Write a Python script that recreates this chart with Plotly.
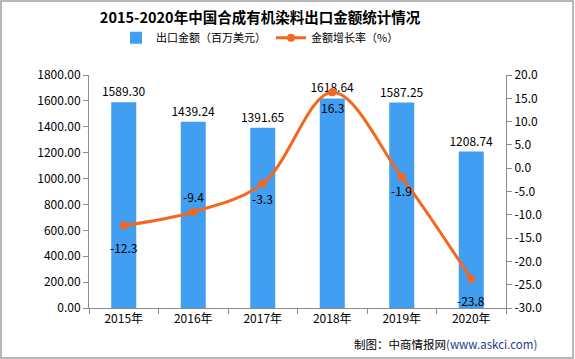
import plotly.graph_objects as go

years = ["2015年", "2016年", "2017年", "2018年", "2019年", "2020年"]
export_value = [1589.30, 1439.24, 1391.65, 1618.64, 1587.25, 1208.74]
growth_rate = [-12.3, -9.4, -3.3, 16.3, -1.9, -23.8]
left_ticks = [0, 200, 400, 600, 800, 1000, 1200, 1400, 1600, 1800]
right_ticks = [20, 15, 10, 5, 0, -5, -10, -15, -20, -25, -30]

BAR_COLOR = "#419EF0"
LINE_COLOR = "#F5661F"
FONT = "SimSun, Noto Sans CJK SC, sans-serif"
label_shift = [-22, 16, -15, -15, -13, -21]

fig = go.Figure()
fig.add_trace(go.Bar(
    x=years, y=export_value, name="出口金额（百万美元）",
    marker=dict(color=BAR_COLOR, line=dict(width=0)), width=0.36,
    text=[f"{v:.2f}" for v in export_value], textposition="outside", constraintext="none",
    textangle=0, textfont=dict(size=12, color="#000000", family=FONT), cliponaxis=False,
))
fig.add_trace(go.Scatter(
    x=years, y=growth_rate, name="金额增长率（%）", yaxis="y2",
    mode="lines+markers", line=dict(color=LINE_COLOR, width=3, shape="spline", smoothing=1.0),
    marker=dict(color=LINE_COLOR, size=8),
))
for xv, yv, sh in zip(years, growth_rate, label_shift):
    fig.add_annotation(x=xv, y=yv, yref="y2", text=f"{yv:.1f}", showarrow=False,
                       yshift=sh, font=dict(size=12, color="#000000", family=FONT))

fig.add_annotation(xref="paper", yref="paper", x=1.08, y=-36/233, xanchor="right", yanchor="middle",
                   text="制图：中商情报网<span style='color:#1F3C88'>(www.askci.com)</span>",
                   showarrow=False, font=dict(size=11.5, color="#000000", family=FONT))

pw, ph = 417, 233
fig.add_shape(type="rect", xref="paper", yref="paper",
              x0=-88/pw, x1=(417 + 67) / pw, y0=-50/ph, y1=(233 + 74) / ph,
              line=dict(color="#A0A0A0", width=1.5), fillcolor="rgba(0,0,0,0)", layer="above")

fig.update_layout(
    width=575, height=359,
    margin=dict(l=89, r=69, t=75, b=51, autoexpand=False),
    paper_bgcolor="white", plot_bgcolor="white",
    font=dict(family=FONT, size=12, color="#000000"),
    title=dict(text="<b>2015-2020年中国合成有机染料出口金额统计情况</b>", x=260/575, xanchor="center",
               y=0.95, yanchor="middle", font=dict(size=14.5, family=FONT, color="#000000")),
    legend=dict(orientation="h", x=(260 - 89) / 417, xanchor="center", y=1.16, yanchor="middle",
                font=dict(size=11, family=FONT), traceorder="normal"),
    bargap=0.64,
    showlegend=True,
    xaxis=dict(showline=True, linecolor="#8C8C8C", linewidth=1, ticks="outside", tickcolor="#8C8C8C",
               ticklen=5, tickson="boundaries", showgrid=False, tickfont=dict(size=12), tickangle=0),
    yaxis=dict(range=[0, 1800], tickvals=left_ticks, ticktext=[f"{v:.2f}" for v in left_ticks],
               showline=True, linecolor="#8C8C8C", ticks="outside", tickcolor="#8C8C8C", ticklen=5,
               showgrid=False, zeroline=False, tickfont=dict(size=12)),
    yaxis2=dict(range=[-30, 20], tickvals=right_ticks, ticktext=[f"{v:.1f}" for v in right_ticks],
                overlaying="y", side="right", showline=True, linecolor="#8C8C8C", ticks="outside",
                tickcolor="#8C8C8C", ticklen=5, showgrid=False, zeroline=False, tickfont=dict(size=12)),
)

fig.write_html("out.html", config={"displayModeBar": False},
               post_script="document.body.style.margin='0';")
